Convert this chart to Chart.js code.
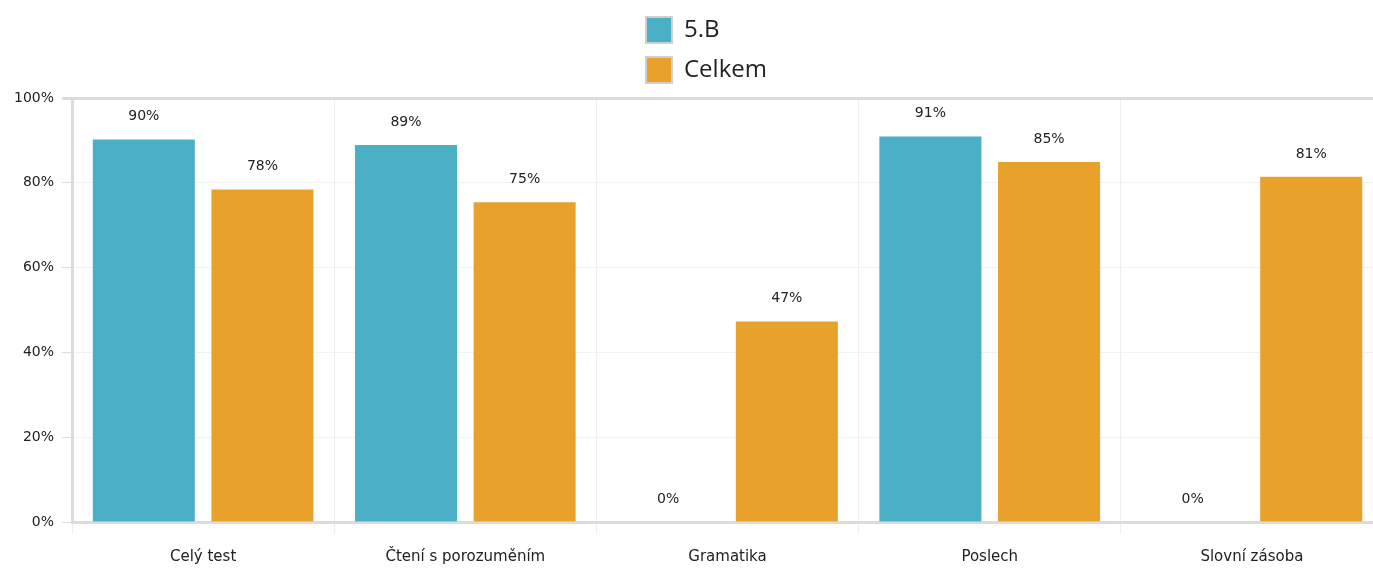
<!DOCTYPE html>
<html>
<head>
<meta charset="utf-8">
<script src="https://cdn.jsdelivr.net/npm/chart.js@4"></script>
<style>
  html, body { margin: 0; padding: 0; background: #fff; overflow: hidden; }
  #wrap { width: 1383px; height: 568px; position: relative; }
</style>
</head>
<body>
<div id="wrap"><canvas id="chart"></canvas></div>
<script>
// kategorie a hodnoty (v %)
const kategorie = ['Celý test', 'Čtení s porozuměním', 'Gramatika', 'Poslech', 'Slovní zásoba'];
const trida5B = [90.2, 88.9, 0, 90.9, 0];
const celkem = [78.4, 75.4, 47.3, 84.9, 81.4];
const yTicks = [0, 20, 40, 60, 80, 100];

const barvaTrida = '#4bb0c5';
const barvaCelkem = '#e8a22c';

// popisky nad sloupci (misto datalabels pluginu)
const popiskyPlugin = {
    id: 'popisky',
    afterDatasetsDraw(chart) {
        const ctx = chart.ctx;
        ctx.save();
        ctx.font = '14px "DejaVu Sans", sans-serif';
        ctx.fillStyle = '#222';
        ctx.textAlign = 'center';
        ctx.textBaseline = 'middle';
        chart.data.datasets.forEach((ds, di) => {
            const meta = chart.getDatasetMeta(di);
            meta.data.forEach((bar, i) => {
                ctx.fillText(Math.round(ds.data[i]) + '%', bar.x, bar.y - 23);
            });
        });
        ctx.restore();
    }
};

// legenda pod sebou - polozky v uzkem bloku uprostred
const legendaPodSebou = {
    id: 'legendaPodSebou',
    afterInit(chart) {
        const lg = chart.legend;
        if (!lg) return;
        const orig = lg.update;
        lg.update = function (mw, mh, m) {
            return orig.call(this, Math.min(mw, 160), mh, m);
        };
    },
    afterLayout(chart) {
        const lg = chart.legend;
        if (!lg) return;
        lg.left = 632;
        lg.right = 832;
        lg.width = lg.right - lg.left;
        lg.top -= 5;
        lg.bottom -= 5;
    }
};

const ctx = document.getElementById('chart').getContext('2d');
new Chart(ctx, {
    type: 'bar',
    data: {
        labels: kategorie,
        datasets: [
            { label: '5.B', data: trida5B, backgroundColor: barvaTrida },
            { label: 'Celkem', data: celkem, backgroundColor: barvaCelkem }
        ]
    },
    options: {
        responsive: true,
        maintainAspectRatio: false,
        animation: false,
        datasets: { bar: { categoryPercentage: 0.905, barPercentage: 0.86 } },
        layout: { padding: { left: 6, right: 0, top: 8, bottom: -12 } },
        plugins: {
            tooltip: { enabled: false },
            legend: {
                position: 'top',
                align: 'start',
                labels: {
                    boxWidth: 26,
                    boxHeight: 26,
                    padding: 14,
                    color: '#222',
                    font: { family: '"Open Sans", sans-serif', size: 24 },
                    generateLabels(chart) {
                        return chart.data.datasets.map((ds, i) => ({
                            text: ds.label,
                            fillStyle: ds.backgroundColor,
                            strokeStyle: '#cfcfcf',
                            lineWidth: 2,
                            fontColor: '#222',
                            datasetIndex: i
                        }));
                    }
                }
            }
        },
        scales: {
            x: {
                grid: {
                    offset: true,
                    color: '#eeeeee',
                    lineWidth: 1,
                    tickLength: 12,
                    tickColor: '#eeeeee'
                },
                border: { color: '#dcdcdc', width: 3 },
                ticks: {
                    color: '#222',
                    padding: 14,
                    font: { family: '"DejaVu Sans", sans-serif', size: 15 }
                }
            },
            y: {
                min: 0,
                max: 100,
                afterBuildTicks(axis) { axis.ticks = yTicks.map(v => ({ value: v })); },
                grid: {
                    color: c => (c.tick && c.tick.value === 100) ? '#dcdcdc' : '#f2f2f2',
                    lineWidth: c => (c.tick && c.tick.value === 100) ? 3 : 1,
                    tickLength: 10,
                    tickColor: '#dcdcdc'
                },
                border: { color: '#dcdcdc', width: 3 },
                ticks: {
                    color: '#222',
                    padding: 8,
                    font: { family: '"DejaVu Sans", sans-serif', size: 14 },
                    callback: v => v + '%'
                }
            }
        }
    },
    plugins: [popiskyPlugin, legendaPodSebou]
});
</script>
</body>
</html>
